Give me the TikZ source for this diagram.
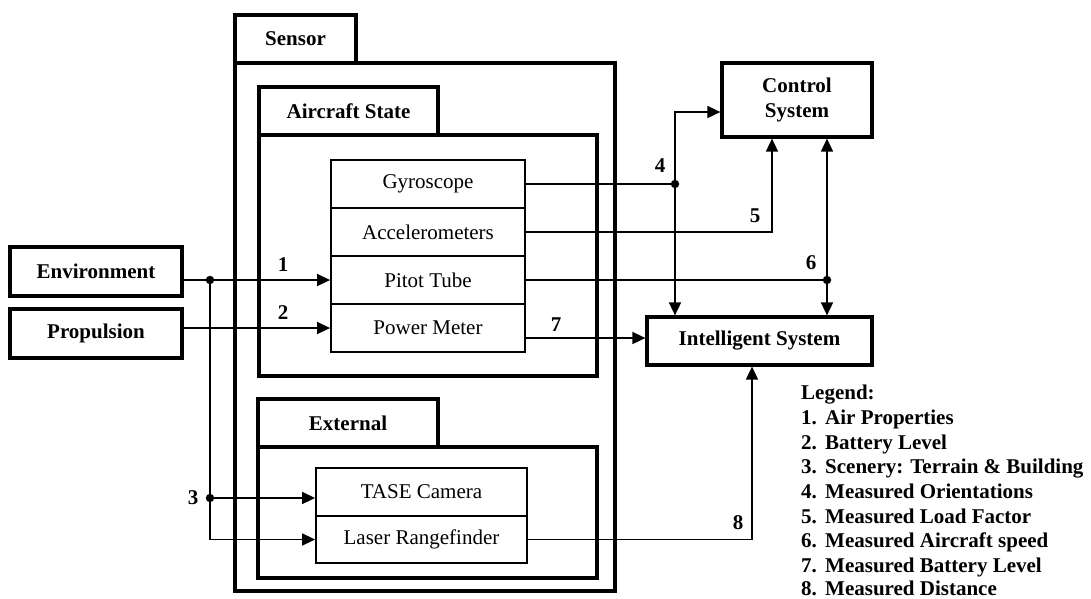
\documentclass[tikz,border=0pt]{standalone}
\usepackage{fontspec}
\setmainfont{Liberation Serif}
\usetikzlibrary{arrows.meta}
\begin{document}
\begin{tikzpicture}[x=1pt,y=-1pt,
  every node/.style={font=\fontsize{21}{25}\selectfont},
  bigbox/.style={draw, line width=3.2pt, inner sep=0pt, font=\fontsize{21}{25}\selectfont\bfseries},
  item/.style={draw, line width=1.8pt, inner sep=0pt, minimum width=194pt, minimum height=48pt},
  extitem/.style={draw, line width=1.8pt, inner sep=0pt, minimum width=211pt},
  conn/.style={line width=1.6pt},
  arr/.style={line width=1.6pt, -{Triangle[length=13pt,width=12pt]}},
  darr/.style={line width=1.6pt, {Triangle[length=13pt,width=12pt]}-{Triangle[length=13pt,width=12pt]}},
  num/.style={font=\fontsize{21}{25}\selectfont\bfseries, inner sep=0pt},
  leg/.style={font=\fontsize{21}{25}\selectfont\bfseries, anchor=base west, inner sep=0pt}]
\useasboundingbox (0,0) rectangle (1091,598);
% containers
\node[bigbox, minimum width=380pt, minimum height=528pt] (sensorbox) at (425,327) {};
\node[bigbox, minimum width=121pt, minimum height=48pt] (sensortab) at (295.5,39) {Sensor};
\node[bigbox, minimum width=338pt, minimum height=241pt] (acbox) at (428,255.5) {};
\node[bigbox, minimum width=179pt, minimum height=48pt] (actab) at (348.5,111) {Aircraft State};
\node[bigbox, minimum width=339pt, minimum height=131pt] (extbox) at (427.5,512.5) {};
\node[bigbox, minimum width=180pt, minimum height=48pt] (exttab) at (348,423) {External};
% sensor items
\node[item] (gyro) at (428,184) {Gyroscope};
\node[item] (accel) at (428,232) {Accelerometers};
\node[item] (pitot) at (428,280) {Pitot Tube};
\node[item] (power) at (428,328) {Power Meter};
\node[extitem, minimum height=48pt] (tase) at (421.5,492) {TASE Camera};
\node[extitem, minimum height=47pt] (laser) at (421.5,539.5) {Laser Rangefinder};
% external blocks
\node[bigbox, minimum width=172pt, minimum height=49pt] (env) at (96,271.5) {Environment};
\node[bigbox, minimum width=172pt, minimum height=49pt] (prop) at (96,333.5) {Propulsion};
\node[bigbox, minimum width=150pt, minimum height=74pt, align=center] (ctrl) at (797,100) {Control\\System};
\node[bigbox, minimum width=225pt, minimum height=48pt] (intel) at (759.5,341) {Intelligent System};
% junction coordinates
\coordinate (d1) at (210,280);
\coordinate (d3) at (210,498);
\coordinate (d4) at (675,184);
\coordinate (d6) at (827,280);
% connectors
\draw[conn] (env.east |- d1) -- (d1);
\draw[arr] (d1) -- (pitot.west);
\draw[arr] (d1) |- (laser.west);
\draw[arr] (d3) -- (tase.west |- d3);
\draw[arr] (prop.east |- power.west) -- (power.west);
\draw[conn] (gyro.east) -- (d4);
\draw[arr] (d4) -- (675,112) -- (ctrl.west |- 0,112);
\draw[arr] (d4) -- (intel.north -| d4);
\draw[arr] (accel.east) -- (772,232) -- (ctrl.south -| 772,0);
\draw[conn] (pitot.east) -- (d6);
\draw[darr] (ctrl.south -| d6) -- (intel.north -| d6);
\draw[arr] (power.east |- 0,338) -- (intel.west |- 0,338);
\draw[arr] (laser.east) -- (752,539.5) -- (intel.south -| 752,0);
% dots
\fill (d1) circle (4.2);
\fill (d3) circle (4.2);
\fill (d4) circle (4.2);
\fill (d6) circle (4.2);
% numbers
\node[num] (n1) at (283,265) {1};
\node[num] (n2) at (283,313) {2};
\node[num] (n3) at (193,498) {3};
\node[num] (n4) at (660,166) {4};
\node[num] (n5) at (755,216) {5};
\node[num] (n6) at (811,263) {6};
\node[num] (n7) at (556,325) {7};
\node[num] (n8) at (738,523) {8};
% legend
\node[leg] (lg0) at (801,399) {Legend:};
\node[leg] (lg1) at (801,424) {\makebox[24pt][l]{1.}Air Properties};
\node[leg] (lg2) at (801,449) {\makebox[24pt][l]{2.}Battery Level};
\node[leg] (lg3) at (801,473) {\makebox[24pt][l]{3.}Scenery: Terrain \& Building};
\node[leg] (lg4) at (801,498) {\makebox[24pt][l]{4.}Measured Orientations};
\node[leg] (lg5) at (801,523) {\makebox[24pt][l]{5.}Measured Load Factor};
\node[leg] (lg6) at (801,547) {\makebox[24pt][l]{6.}Measured Aircraft speed};
\node[leg] (lg7) at (801,572) {\makebox[24pt][l]{7.}Measured Battery Level};
\node[leg] (lg8) at (801,595) {\makebox[24pt][l]{8.}Measured Distance};
\end{tikzpicture}
\end{document}
